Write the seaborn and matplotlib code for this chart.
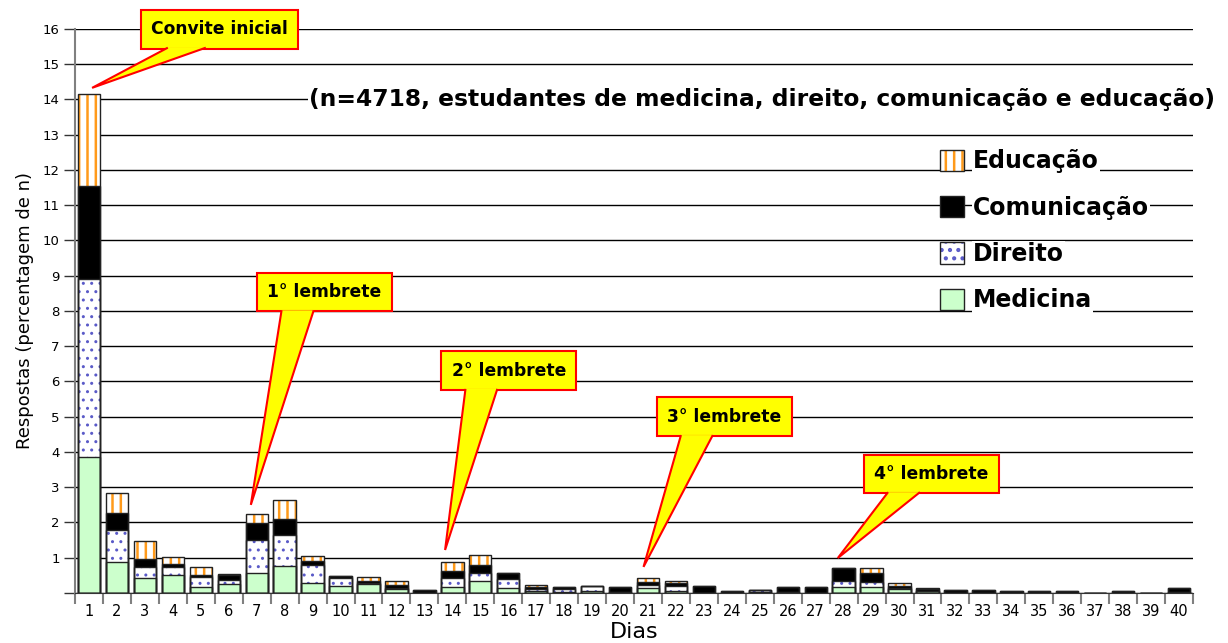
import numpy as np
import pandas as pd
import matplotlib
matplotlib.use('Agg')
import matplotlib.pyplot as plt
import matplotlib.patches as mpatches
import matplotlib.transforms as mtransforms
import seaborn as sns

plt.rcParams['hatch.linewidth'] = 1.8

# data (percent of n, per day)
dias = [str(d) for d in range(1, 41)]
medicina = [3.86, 0.87, 0.43, 0.52, 0.18, 0.26, 0.57, 0.76, 0.29, 0.21,
            0.26, 0.10, 0.00, 0.18, 0.33, 0.14, 0.06, 0.04, 0.06, 0.02,
            0.14, 0.07, 0.00, 0.00, 0.04, 0.03, 0.00, 0.17, 0.18, 0.10,
            0.06, 0.00, 0.00, 0.00, 0.00, 0.00, 0.00, 0.00, 0.00, 0.03]
direito = [5.04, 0.92, 0.32, 0.21, 0.27, 0.12, 0.94, 0.89, 0.50, 0.21,
           0.02, 0.05, 0.00, 0.24, 0.24, 0.26, 0.06, 0.06, 0.14, 0.00,
           0.10, 0.12, 0.00, 0.00, 0.05, 0.00, 0.00, 0.17, 0.13, 0.04,
           0.00, 0.00, 0.00, 0.00, 0.00, 0.00, 0.00, 0.00, 0.00, 0.00]
comunicacao = [2.65, 0.47, 0.20, 0.08, 0.05, 0.12, 0.47, 0.44, 0.13, 0.07,
               0.05, 0.08, 0.09, 0.20, 0.21, 0.16, 0.05, 0.06, 0.00, 0.14,
               0.08, 0.08, 0.19, 0.05, 0.00, 0.13, 0.16, 0.37, 0.25, 0.06,
               0.04, 0.09, 0.09, 0.06, 0.06, 0.06, 0.00, 0.06, 0.00, 0.12]
educacao = [2.60, 0.59, 0.53, 0.21, 0.23, 0.05, 0.27, 0.56, 0.13, 0.00,
            0.12, 0.11, 0.00, 0.27, 0.30, 0.00, 0.06, 0.00, 0.00, 0.00,
            0.10, 0.07, 0.00, 0.00, 0.00, 0.00, 0.00, 0.00, 0.15, 0.08,
            0.03, 0.00, 0.00, 0.00, 0.00, 0.00, 0.00, 0.00, 0.00, 0.00]

df = pd.DataFrame({'dia': dias, 'Medicina': medicina, 'Direito': direito,
                   'Comunicação': comunicacao, 'Educação': educacao})
df['c_med'] = df['Medicina']
df['c_dir'] = df['c_med'] + df['Direito']
df['c_com'] = df['c_dir'] + df['Comunicação']
df['c_edu'] = df['c_com'] + df['Educação']

fig = plt.figure(figsize=(12.28, 6.43), dpi=100)
ax = fig.add_axes([0.0611, 0.0778, 0.9104, 0.8771])

ORANGE = '#ff9a1a'
DOTS = '#5a5ac8'
GREEN = '#ccffcc'
EDGE = '#222222'

# stacked bars: draw cumulative totals, tallest first
layers = [('c_edu', 'white', ORANGE, '||'),
          ('c_com', 'black', 'black', None),
          ('c_dir', 'white', DOTS, '..'),
          ('c_med', GREEN, GREEN, None)]
for col, fc, hc, hatch in layers:
    n0 = len(ax.patches)
    sns.barplot(data=df, x='dia', y=col, order=dias, color=fc, width=0.8,
                errorbar=None, saturation=1, ax=ax)
    for p in ax.patches[n0:]:
        p.set_facecolor(fc)
        p.set_edgecolor(hc)
        p.set_linewidth(0)
        if hatch:
            p.set_hatch(hatch)
            if hatch == '..' and hasattr(p, 'set_hatch_linewidth'):
                p.set_hatch_linewidth(1.0)

# segment outlines
for col in ['c_edu', 'c_com', 'c_dir', 'c_med']:
    sns.barplot(data=df, x='dia', y=col, order=dias, fill=False, color=EDGE,
                width=0.8, errorbar=None, saturation=1, linewidth=1, ax=ax)

ax.set_xlim(-0.47, 39.46)
ax.set_ylim(0, 16)
ax.set_yticks(range(17), [''] + [str(i) for i in range(1, 17)], fontsize=9.5)
ax.yaxis.grid(True, color='black', lw=1)
ax.set_axisbelow(True)
ax.tick_params(axis='y', length=8, width=1, color='#333333', pad=3)

ax.set_xticks(np.arange(-0.5, 40, 1), [''] * 41)
ax.set_xticks(range(40), dias, minor=True, fontsize=10.5)
ax.tick_params(axis='x', which='major', length=8, width=1.5, color='#808080')
ax.tick_params(axis='x', which='minor', length=0, pad=8)

for s in ['top', 'right']:
    ax.spines[s].set_visible(False)
ax.spines['left'].set_color('#808080')
ax.spines['left'].set_linewidth(1.5)
ax.spines['bottom'].set_color('#333333')

ax.set_xlabel('Dias', fontsize=16, labelpad=2)
ax.set_ylabel('Respostas (percentagem de n)', fontsize=13, labelpad=6)

trans = mtransforms.blended_transform_factory(ax.transAxes, ax.transData)
ax.text(0.6145, 14, '(n=4718, estudantes de medicina, direito, comunicação e educação)',
        transform=trans, ha='center', va='center', fontsize=16.8, fontweight='bold',
        bbox=dict(facecolor='white', edgecolor='none', pad=1), zorder=6)

# callouts: text, bar index, tip offset (dx, dy), box centre, wedge base offsets
totals = df['c_edu'].values
callouts = [('Convite inicial', 0, 0.11, 0.18, (4.68, 15.99), (-1.86, -0.50)),
            ('1° lembrete', 6, -0.21, 0.25, (8.43, 8.54), (-1.54, -0.39)),
            ('2° lembrete', 13, -0.26, 0.33, (15.02, 6.31), (-1.55, -0.41)),
            ('3° lembrete', 20, -0.16, 0.32, (22.73, 5.00), (-1.55, -0.41)),
            ('4° lembrete', 27, -0.21, 0.28, (30.14, 3.38), (-1.55, -0.41))]
for txt, i, dx, dy, (tx, ty), (b0, b1) in callouts:
    ax.text(tx, ty, txt, ha='center', va='center', fontsize=12.3, fontweight='bold',
            bbox=dict(boxstyle='square,pad=0.6', fc='yellow', ec='red', lw=1.5),
            zorder=7)
    by = ty - 0.52
    tail = mpatches.Polygon([[tx + b0, by], [i + dx, totals[i] + dy], [tx + b1, by]],
                            closed=False, fc='yellow', ec='red', lw=1.5, zorder=8,
                            clip_on=False)
    ax.add_patch(tail)

# legend
def handle(fc, hc, hatch):
    fill = mpatches.Patch(facecolor=fc, edgecolor=hc, hatch=hatch, lw=0)
    edge = mpatches.Patch(fill=False, edgecolor=EDGE, lw=1)
    return (fill, edge)

handles = [handle('white', ORANGE, '||'), handle('black', 'black', None),
           handle('white', DOTS, '..'), handle(GREEN, GREEN, None)]
labels = ['Educação', 'Comunicação', 'Direito', 'Medicina']
leg = ax.legend(handles, labels, loc='upper left', bbox_to_anchor=(0.7655, 0.768),
                bbox_transform=fig.transFigure, frameon=False,
                prop=dict(size=17, weight='bold'), handlelength=1.0, handleheight=1.0,
                handletextpad=0.4, labelspacing=0.95, borderpad=0, borderaxespad=0)
for t in leg.get_texts():
    t.set_bbox(dict(facecolor='white', edgecolor='none', pad=0.5))

fig.savefig('out.png', dpi=100)
